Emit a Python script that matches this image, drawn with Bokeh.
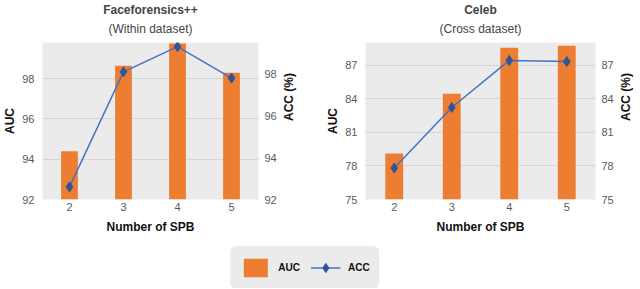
import math
from bokeh.plotting import figure
from bokeh.models import (Range1d, LinearAxis, FixedTicker, Title, Legend,
                          LegendItem, ColumnDataSource)
from bokeh.layouts import column, row
from bokeh.embed import file_html
from bokeh.resources import INLINE

# ---- data ----
spb = [2, 3, 4, 5]
ff_auc = [94.4, 98.65, 99.75, 98.3]
ff_acc = [92.6, 98.1, 99.3, 97.8]
celeb_auc = [79.1, 84.45, 88.55, 88.75]
celeb_acc = [77.8, 83.2, 87.4, 87.3]
ff_ticks = [92, 94, 96, 98]
celeb_ticks = [75, 78, 81, 84, 87]
x_label = "Number of SPB"
left_label = "AUC"
right_label = "ACC (%)"
series_names = ["AUC", "ACC"]

FONT = "Liberation Sans"
ORANGE = "#ED7D31"
BLUE = "#4472C4"
DBLUE = "#2F5597"
BG = "#ebebeb"
GRID = "#d6d6d6"


def style_axis(ax, ticks):
    ax.ticker = FixedTicker(ticks=ticks)
    ax.axis_line_color = None
    ax.major_tick_line_color = None
    ax.minor_tick_line_color = None
    ax.major_tick_out = 0
    ax.major_tick_in = 0
    ax.minor_tick_out = 0
    ax.major_label_text_font = FONT
    ax.major_label_text_font_size = "11px"
    ax.major_label_text_color = "#595959"
    ax.axis_label_text_font = FONT
    ax.axis_label_text_font_size = "12px"
    ax.axis_label_text_font_style = "bold"
    ax.axis_label_text_color = "#111111"


def make(title, subtitle, auc, acc, auc_range, acc_range, ticks, frame_w, mbl, mbr):
    p = figure(frame_width=frame_w, frame_height=157,
               x_range=Range1d(1.5, 5.5), y_range=Range1d(*auc_range),
               output_backend="svg", toolbar_location=None,
               min_border_left=mbl, min_border_right=mbr,
               min_border_top=0, min_border_bottom=0,
               background_fill_color=BG, outline_line_color=None)
    p.title.text = title
    p.title.align = "center"
    p.title.text_font = FONT
    p.title.text_font_size = "12px"
    p.title.text_font_style = "bold"
    p.title.standoff = 0
    p.add_layout(Title(text=subtitle, align="center", text_font=FONT,
                       text_font_size="12px", text_font_style="normal",
                       vertical_align="top", standoff=10), "above")
    p.extra_y_ranges = {"acc": Range1d(*acc_range)}

    p.vbar(x=spb, top=auc, bottom=auc_range[0], width=0.31,
           fill_color=ORANGE, line_color=None)
    p.line(x=spb, y=acc, y_range_name="acc", line_color=BLUE, line_width=1.5)
    p.scatter(x=spb, y=acc, y_range_name="acc", marker="diamond", size=10,
              fill_color=DBLUE, line_color=DBLUE)

    rax = LinearAxis(y_range_name="acc", axis_label=right_label)
    if "axis_label_orientation" in rax.properties():
        rax.axis_label_orientation = math.pi / 2
    p.add_layout(rax, "right")

    p.xaxis.axis_label = x_label
    p.yaxis[0].axis_label = left_label
    style_axis(p.xaxis[0], spb)
    p.xaxis[0].major_label_standoff = 3
    p.xaxis[0].axis_label_standoff = 6
    style_axis(p.yaxis[0], ticks)
    p.yaxis[0].major_label_standoff = 8
    p.yaxis[0].axis_label_standoff = 2
    style_axis(rax, ticks)
    rax.major_label_standoff = 6
    rax.axis_label_standoff = 9

    p.xgrid.grid_line_color = None
    p.ygrid.grid_line_color = GRID
    p.ygrid.ticker = FixedTicker(ticks=ticks)
    return p


p1 = make("Faceforensics++", "(Within dataset)", ff_auc, ff_acc,
          (92, 99.8), (92, 99.5), ff_ticks, 216, 0, 65)
p2 = make("Celeb", "(Cross dataset)", celeb_auc, celeb_acc,
          (75, 89.03), (75, 89.0), celeb_ticks, 230, 36, 0)

# legend figure (its renderers are hidden; only the legend is shown)
lf = figure(width=610, height=52, x_range=Range1d(0, 1), y_range=Range1d(0, 1),
            output_backend="svg", toolbar_location=None, min_border=0,
            outline_line_color=None)
lf.axis.visible = False
lf.grid.visible = False
src = ColumnDataSource(dict(x=spb, y=ff_auc))
r_bar = lf.vbar(x="x", top="y", width=0.3, source=src,
                fill_color=ORANGE, line_color=None, visible=False)
r_line = lf.line(x="x", y="y", source=src, line_color=BLUE, line_width=1.5,
                 visible=False)
r_sc = lf.scatter(x="x", y="y", source=src, marker="diamond", size=14,
                  fill_color=DBLUE, line_color=DBLUE, visible=False)
legend = Legend(items=[LegendItem(label=series_names[0], renderers=[r_bar]),
                       LegendItem(label=series_names[1], renderers=[r_line, r_sc])],
                orientation="horizontal", location="top_center",
                background_fill_color=BG, background_fill_alpha=1.0,
                border_line_color=BG, border_line_width=1,
                glyph_width=30, glyph_height=23,
                label_standoff=8, spacing=10, padding=9, margin=10,
                inactive_fill_alpha=0.0,
                label_text_font=FONT, label_text_font_size="10px",
                label_text_font_style="bold", label_text_color="#111111")
if "border_radius" in Legend.properties():
    legend.border_radius = 6
lf.add_layout(legend, "center")

layout = column(row(p1, p2), lf)
open("out.html", "w").write(file_html(layout, INLINE))
